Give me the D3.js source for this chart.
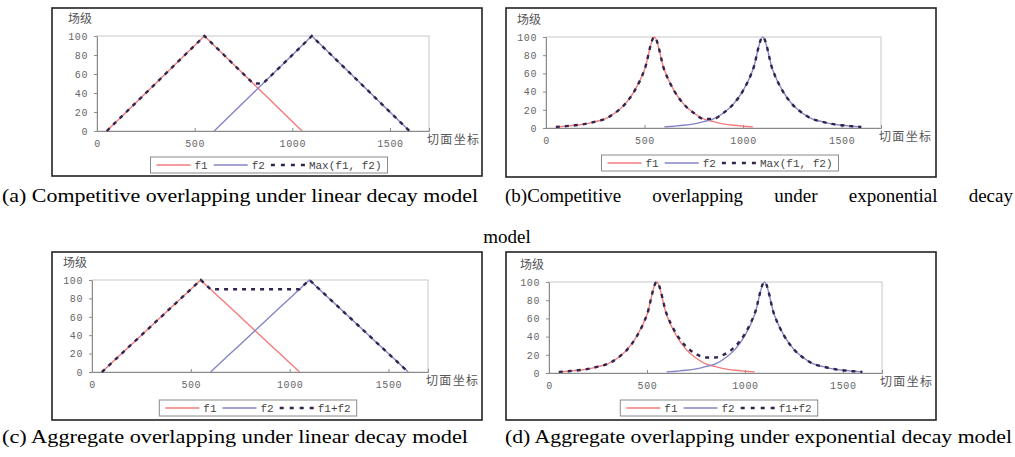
<!DOCTYPE html>
<html>
<head>
<meta charset="utf-8">
<script src="https://cdn.jsdelivr.net/npm/d3@7"></script>
<style>
  body { margin: 0; background: #fff; }
  svg { display: block; }
</style>
</head>
<body>
<div id="chart"></div>
<script>
// sample positions along the section (every 50)
var xValues = [50, 100, 150, 200, 250, 300, 350, 400, 450, 500, 550,
    600, 650, 700, 750, 800, 850, 900, 950, 1000, 1050,
    1100, 1150, 1200, 1250, 1300, 1350, 1400, 1450, 1500, 1550, 1600];
var f1X = xValues.slice(0, 21);
var f2X = xValues.slice(11);

// linear decay
var f1Linear = [0, 10, 20, 30, 40, 50, 60, 70, 80, 90, 100, 90, 80, 70, 60, 50, 40, 30, 20, 10, 0];
var f2Linear = [0, 10, 20, 30, 40, 50, 60, 70, 80, 90, 100, 90, 80, 70, 60, 50, 40, 30, 20, 10, 0];
var maxLinear = [0, 10, 20, 30, 40, 50, 60, 70, 80, 90, 100, 90, 80, 70, 60, 50,
    50, 60, 70, 80, 90, 100, 90, 80, 70, 60, 50, 40, 30, 20, 10, 0];
var sumLinear = [0, 10, 20, 30, 40, 50, 60, 70, 80, 90, 100, 90, 90, 90, 90, 90,
    90, 90, 90, 90, 90, 100, 90, 80, 70, 60, 50, 40, 30, 20, 10, 0];

// exponential decay
var f1Exp = [1.2, 2, 3, 4.5, 7, 10, 16.5, 26, 41, 64, 100, 64, 41, 26, 16.5, 10, 7, 4.5, 3, 2, 1.2];
var f2Exp = [1.2, 2, 3, 4.5, 7, 10, 16.5, 26, 41, 64, 100, 64, 41, 26, 16.5, 10, 7, 4.5, 3, 2, 1.2];
var maxExp = [1.2, 2, 3, 4.5, 7, 10, 16.5, 26, 41, 64, 100, 64, 41, 26, 16.5, 10,
    10, 16.5, 26, 41, 64, 100, 64, 41, 26, 16.5, 10, 7, 4.5, 3, 2, 1.2];
var sumExp = [1.2, 2, 3, 4.5, 7, 10, 16.5, 26, 41, 64, 100, 65.2, 43, 29, 21, 17,
    17, 21, 29, 43, 65.2, 100, 64, 41, 26, 16.5, 10, 7, 4.5, 3, 2, 1.2];

var xTicks = [0, 500, 1000, 1500];
var yTicks = [0, 20, 40, 60, 80, 100];
var yTitle = '场级';
var xTitle = '切面坐标';

var f1Color = '#f27c7c',
    f2Color = '#8585c6',
    comboColor = '#33244f';

var svg = d3.select('#chart').append('svg')
    .attr('width', 1015)
    .attr('height', 457)
    .style('background', '#fff');

var panels = [
    { frame: [52, 8, 482, 176], plot: [97, 36, 429, 131], legend: [269, 157],
      f1: f1Linear, f2: f2Linear, combo: maxLinear, comboLabel: 'Max(f1, f2)', smooth: false },
    { frame: [506, 8, 936, 177], plot: [546, 37, 881, 128], legend: [720, 155],
      f1: f1Exp, f2: f2Exp, combo: maxExp, comboLabel: 'Max(f1, f2)', smooth: true },
    { frame: [52, 252, 482, 420], plot: [92, 280, 428, 372], legend: [258, 400],
      f1: f1Linear, f2: f2Linear, combo: sumLinear, comboLabel: 'f1+f2', smooth: false },
    { frame: [506, 252, 936, 420], plot: [549, 282, 882, 373], legend: [719, 400],
      f1: f1Exp, f2: f2Exp, combo: sumExp, comboLabel: 'f1+f2', smooth: true }
];

function drawPanel(p) {
    var g = svg.append('g');
    var L = p.plot[0], T = p.plot[1], R = p.plot[2], B = p.plot[3];

    g.append('rect')
        .attr('x', p.frame[0])
        .attr('y', p.frame[1])
        .attr('width', p.frame[2] - p.frame[0])
        .attr('height', p.frame[3] - p.frame[1])
        .attr('fill', '#fff')
        .attr('stroke', '#222')
        .attr('stroke-width', 1.6);

    var x = d3.scaleLinear().domain([0, 1700]).range([L, R]);
    var y = d3.scaleLinear().domain([0, 100]).range([B, T]);

    g.append('rect')
        .attr('x', L).attr('y', T)
        .attr('width', R - L).attr('height', B - T)
        .attr('fill', 'none')
        .attr('stroke', '#c8c8c8');

    var xAxis = g.append('g')
        .attr('transform', 'translate(0,' + B + ')')
        .call(d3.axisBottom(x).tickValues(xTicks).tickFormat(d3.format('d'))
            .tickSize(-3).tickPadding(9));
    var yAxis = g.append('g')
        .attr('transform', 'translate(' + L + ',0)')
        .call(d3.axisLeft(y).tickValues(yTicks).tickSizeInner(3).tickSizeOuter(0).tickPadding(6));

    [xAxis, yAxis].forEach(function (a) {
        a.select('.domain').attr('stroke', '#8a8a8a');
        a.selectAll('line').attr('stroke', '#8a8a8a');
        a.selectAll('text')
            .attr('fill', '#666')
            .style('font-family', 'Liberation Mono, DejaVu Sans Mono, monospace')
            .style('font-size', '10px')
            .style('letter-spacing', '0.6px');
    });

    g.append('text')
        .attr('x', L - 29)
        .attr('y', T - 17)
        .attr('dy', '0.35em')
        .attr('fill', '#555')
        .style('font-family', 'Noto Sans CJK SC')
        .style('font-size', '12px')
        .text(yTitle);

    g.append('text')
        .attr('x', R - 2)
        .attr('y', B + 9)
        .attr('dy', '0.35em')
        .attr('fill', '#555')
        .attr('textLength', 52)
        .style('font-family', 'Noto Sans CJK SC')
        .style('font-size', '12px')
        .text(xTitle);

    var line = d3.line()
        .x(function (d) { return x(d[0]); })
        .y(function (d) { return y(d[1]); })
        .curve(p.smooth ? d3.curveMonotoneX : d3.curveLinear);

    g.append('path')
        .datum(d3.zip(f1X, p.f1))
        .attr('d', line)
        .attr('fill', 'none')
        .attr('stroke', f1Color)
        .attr('stroke-width', 1.4);

    g.append('path')
        .datum(d3.zip(f2X, p.f2))
        .attr('d', line)
        .attr('fill', 'none')
        .attr('stroke', f2Color)
        .attr('stroke-width', 1.4);

    g.append('path')
        .datum(d3.zip(xValues, p.combo))
        .attr('d', line)
        .attr('fill', 'none')
        .attr('stroke', comboColor)
        .attr('stroke-width', 2.4)
        .attr('stroke-dasharray', '4,5');

    // legend
    var items = [
        { label: 'f1', color: f1Color, dash: null, w: 1.4 },
        { label: 'f2', color: f2Color, dash: null, w: 1.4 },
        { label: p.comboLabel, color: comboColor, dash: '4,6', w: 2.4 }
    ];
    var lg = g.append('g');
    var cx = 6;
    items.forEach(function (it) {
        lg.append('line')
            .attr('x1', cx).attr('x2', cx + 34)
            .attr('y1', 8).attr('y2', 8)
            .attr('stroke', it.color)
            .attr('stroke-width', it.w)
            .attr('stroke-dasharray', it.dash);
        var t = lg.append('text')
            .attr('x', cx + 38)
            .attr('y', 8)
            .attr('dy', '0.35em')
            .attr('fill', '#444')
            .style('font-family', 'Liberation Mono, DejaVu Sans Mono, monospace')
            .style('font-size', '11px')
            .text(it.label);
        cx += 38 + t.node().getComputedTextLength() + 6;
    });
    var lw = cx;
    lg.insert('rect', ':first-child')
        .attr('x', 0).attr('y', 0)
        .attr('width', lw).attr('height', 16)
        .attr('fill', '#fff')
        .attr('stroke', '#8a8a8a');
    lg.attr('transform', 'translate(' + (p.legend[0] - lw / 2) + ',' + p.legend[1] + ')');
}

panels.forEach(drawPanel);

// captions
var capFont = 'Liberation Serif, DejaVu Serif, serif';

function caption(txt, x0, x1, baseline) {
    svg.append('text')
        .attr('x', x0)
        .attr('y', baseline)
        .attr('fill', '#000')
        .attr('textLength', x1 - x0)
        .attr('lengthAdjust', 'spacingAndGlyphs')
        .style('font-family', capFont)
        .style('font-size', '19px')
        .text(txt);
}

caption('(a) Competitive overlapping under linear decay model', 2, 478, 202);
caption('(c) Aggregate overlapping under linear decay model', 2, 468, 443);
caption('(d) Aggregate overlapping under exponential decay model', 505, 1012, 443);

// (b) caption is justified over the column
var bWords = ['(b)Competitive', 'overlapping', 'under', 'exponential', 'decay'];
var bNodes = bWords.map(function (w) {
    return svg.append('text')
        .attr('y', 202)
        .attr('fill', '#000')
        .style('font-family', capFont)
        .style('font-size', '19px')
        .text(w);
});
var bStart = 505, bEnd = 1013;
var bWidths = bNodes.map(function (n) { return n.node().getComputedTextLength(); });
var bGap = (bEnd - bStart - d3.sum(bWidths)) / (bWords.length - 1);
var bx = bStart;
bNodes.forEach(function (n, i) {
    n.attr('x', bx);
    bx += bWidths[i] + bGap;
});

svg.append('text')
    .attr('x', 507)
    .attr('y', 243)
    .attr('text-anchor', 'middle')
    .attr('fill', '#000')
    .style('font-family', capFont)
    .style('font-size', '19px')
    .text('model');
</script>
</body>
</html>
